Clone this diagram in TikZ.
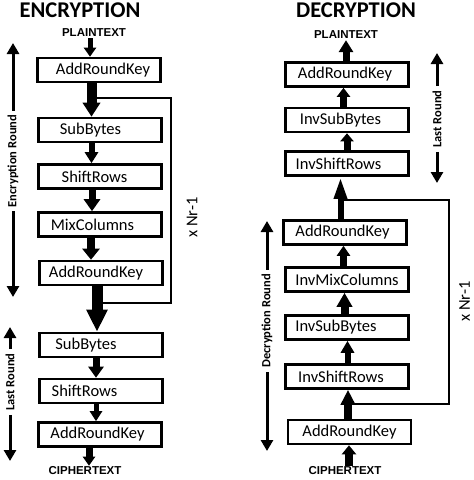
\documentclass[tikz,border=0pt]{standalone}
\usepackage{fontspec}
\setmainfont{Carlito}
\newfontfamily\arialfont{Liberation Sans}
\usetikzlibrary{arrows.meta,calc}
\newcommand\sh[2]{\hspace*{#1pt}#2\hspace*{-#1pt}}
\begin{document}
\begin{tikzpicture}[x=1pt,y=-1pt,
  box/.style={draw, line width=2.6pt, minimum width=123pt, minimum height=24pt, inner sep=0pt, font=\fontsize{16.5}{18}\selectfont},
  io/.style={font=\arialfont\bfseries\fontsize{11.5}{13}\selectfont, inner sep=1pt},
  titletext/.style={font=\bfseries\fontsize{22.5}{25}\selectfont, inner sep=0pt, anchor=base},
  side/.style={rotate=90, font=\bfseries\fontsize{12.5}{14}\selectfont, inner sep=4pt},
  sidearr/.style={line width=3pt, -{Triangle[width=12pt,length=11pt]}},
  nr/.style={rotate=90, font=\fontsize{16.5}{18}\selectfont, inner sep=0pt},
  loopline/.style={line width=2.5pt},
  arr/.style args={#1/#2/#3}{line width=#1pt, -{Triangle[width=#2pt,length=#3pt]}}
]
\useasboundingbox[fill=white] (0,0) rectangle (474,480);

% titles and io
\node[titletext] (enct) at (80,17) {ENCRYPTION};
\node[titletext] (dect) at (356,17) {DECRYPTION};
\node[io] (ept) at (94,33) {PLAINTEXT};
\node[io] (ect) at (85,471) {CIPHERTEXT};
\node[io] (dpt) at (346,35) {PLAINTEXT};
\node[io] (dct) at (345,471) {CIPHERTEXT};

% encryption boxes
\node[box] (e1) at (99,70)    {\sh{4}{AddRoundKey}};
\node[box] (e2) at (100,130)  {\sh{-9.5}{SubBytes}};
\node[box] (e3) at (100,176.5){\sh{-5.5}{ShiftRows}};
\node[box] (e4) at (100,224.5){\sh{-7.5}{MixColumns}};
\node[box] (e5) at (101,273)  {\sh{-5}{AddRoundKey}};
\node[box] (e6) at (101,345)  {\sh{-15}{SubBytes}};
\node[box] (e7) at (101,391)  {\sh{-16.5}{ShiftRows}};
\node[box] (e8) at (100,434.5){\sh{-2.5}{AddRoundKey}};

% decryption boxes
\node[box] (d1) at (347,74.5)  {\sh{-2}{AddRoundKey}};
\node[box] (d2) at (347,120)   {\sh{-6.5}{InvSubBytes}};
\node[box] (d3) at (347,163.5) {\sh{-8.5}{InvShiftRows}};
\node[box] (d4) at (345,232.5) {\sh{-2.5}{AddRoundKey}};
\node[box] (d5) at (347,279.5) {InvMixColumns};
\node[box] (d6) at (347,327.5) {\sh{-11}{InvSubBytes}};
\node[box] (d7) at (347,376.5) {\sh{-6}{InvShiftRows}};
\node[box] (d8) at (349.5,432) {AddRoundKey};

% encryption arrows
\draw[arr=5/12/9]   ([xshift=-4pt]ept.south) -- ([xshift=-9pt]e1.north);
\draw[arr=10/17/14] ([xshift=-7.5pt]e1.south) -- ([xshift=-8.5pt]e2.north);
\draw[arr=6/13/11]  ([xshift=-8.5pt]e2.south) -- ([xshift=-8.5pt]e3.north);
\draw[arr=7/16/12]  ([xshift=-8pt]e3.south) -- ([xshift=-8pt]e4.north);
\draw[arr=8/17/11]  ([xshift=-9pt]e4.south) -- ([xshift=-10pt]e5.north);
\draw[arr=11/20/22] ([xshift=-4pt]e5.south) -- ([xshift=-4pt]e6.north);
\draw[arr=7/15/11]  ([xshift=-5pt]e6.south) -- ([xshift=-5pt]e7.north);
\draw[arr=5/12/10]  ([xshift=-5pt]e7.south) -- ([xshift=-4pt]e8.north);
\draw[arr=7/12/9]   ([xshift=-11pt]e8.south) -- ([xshift=4pt]ect.north);

% encryption loop
\coordinate (elA) at (171,98);
\coordinate (elB) at (171,303);
\draw[loopline] ($(e1.south |- elA)+(-8,0)$) -- (elA) -- (elB) -- ($(e5.south |- elB)+(-4,0)$);

% decryption arrows
\draw[arr=8/14/9]  ([xshift=4pt]dct.north) -- ([xshift=-0.5pt]d8.south);
\draw[arr=8/14/15] ([xshift=-1.5pt]d8.north) -- ([xshift=1pt]d7.south);
\draw[arr=6/13/12] ([xshift=0.5pt]d7.north) -- ([xshift=0.5pt]d6.south);
\draw[arr=8/15/14] ([xshift=-2.5pt]d6.north) -- ([xshift=-2.5pt]d5.south);
\draw[arr=7/13/10] ([xshift=-3.5pt]d5.north) -- ([xshift=-1.5pt]d4.south);
\draw[arr=6/12/22] ([xshift=-4.5pt]d4.north) -- ([xshift=-6.5pt]d3.south);
\draw[arr=7/13/8]  (d3.north) -- (d2.south);
\draw[arr=7/13/9]  ([xshift=-3.5pt]d2.north) -- ([xshift=-3.5pt]d1.south);
\draw[arr=7/14/12] ([xshift=-1pt]d1.north) -- (dpt.south);

% decryption loop
\coordinate (dlA) at (449,200);
\coordinate (dlB) at (449,404);
\draw[loopline] ($(d4.north |- dlA)+(-4.5,0)$) -- (dlA) -- (dlB) -- ($(d8.north |- dlB)+(-1.5,0)$);

% x Nr-1 labels
\node[nr] (enr) at (192,217.5) {x Nr-1};
\node[nr] (dnr) at (464.5,301.5) {x Nr-1};

% side markers
\node[side] (er) at (13,161) {Encryption Round};
\coordinate (erT) at (13,43);
\coordinate (erB) at (13,297);
\draw[sidearr] (er.east) -- (erT);
\draw[sidearr] (er.west) -- (erB);

\node[side] (elr) at (10,382) {Last Round};
\coordinate (elrT) at (10,327);
\coordinate (elrB) at (10,461);
\draw[sidearr] (elr.east) -- (elrT);
\draw[sidearr] (elr.west) -- (elrB);

\node[side] (dr) at (267,321) {Decryption Round};
\coordinate (drT) at (267,221);
\coordinate (drB) at (267,451);
\draw[sidearr] (dr.east) -- (drT);
\draw[sidearr] (dr.west) -- (drB);

\node[side] (dlr) at (437,119) {Last Round};
\coordinate (dlrT) at (437,53);
\coordinate (dlrB) at (437,183);
\draw[sidearr] (dlr.east) -- (dlrT);
\draw[sidearr] (dlr.west) -- (dlrB);
\end{tikzpicture}
\end{document}
